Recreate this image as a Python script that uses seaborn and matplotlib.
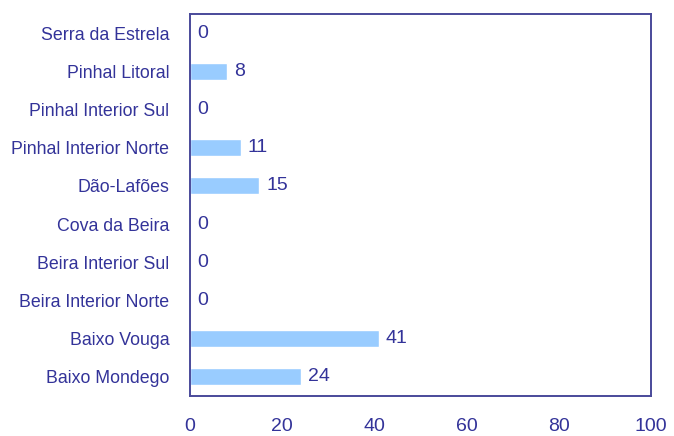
import pandas as pd
import matplotlib.pyplot as plt
import seaborn as sns

# Data (top to bottom as shown)
regions = ['Serra da Estrela', 'Pinhal Litoral', 'Pinhal Interior Sul',
           'Pinhal Interior Norte', 'Dão-Lafões', 'Cova da Beira',
           'Beira Interior Sul', 'Beira Interior Norte', 'Baixo Vouga',
           'Baixo Mondego']
values = [0, 8, 0, 11, 15, 0, 0, 0, 41, 24]

df = pd.DataFrame({'region': regions, 'value': values})

navy = '#333399'

sns.set_style('white')
plt.rcParams['font.family'] = ['Liberation Sans', 'DejaVu Sans']

fig = plt.figure(figsize=(6.74, 4.36), dpi=100)
ax = fig.add_axes([0.282, 0.092, 0.684, 0.876])

sns.barplot(data=df, x='value', y='region', color='#99CCFF', saturation=1,
            width=0.45, ax=ax)

for i, v in enumerate(values):
    ax.text(v + 1.5, i, str(v), va='center', ha='left', fontsize=14, color=navy)

ax.set_xlim(0, 100)
ax.set_xticks([0, 20, 40, 60, 80, 100])
ax.set_xlabel('')
ax.set_ylabel('')
ax.tick_params(axis='both', length=0, labelcolor=navy)
ax.tick_params(axis='x', pad=16, labelsize=14)
ax.tick_params(axis='y', pad=15, labelsize=12.8)
for s in ax.spines.values():
    s.set_visible(True)
    s.set_color('#4a4a9a')
    s.set_linewidth(1.4)

plt.savefig('out.png', dpi=100)
